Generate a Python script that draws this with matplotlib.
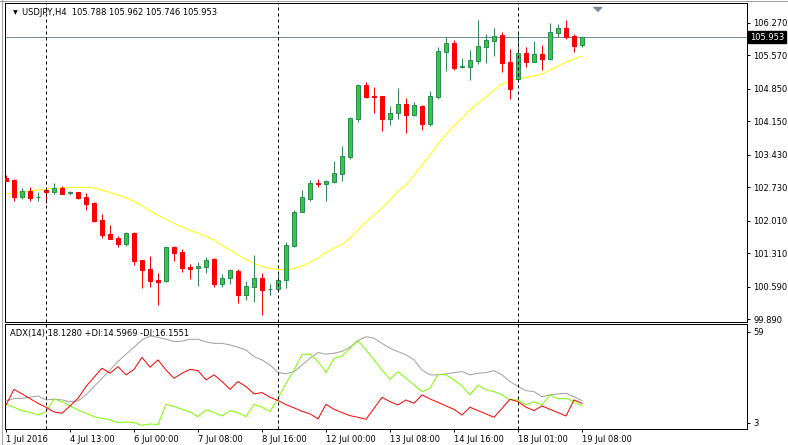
import matplotlib

matplotlib.use("Agg")
import matplotlib.pyplot as plt

plt.rcParams["font.family"] = ["DejaVu Sans"]
plt.rcParams["font.size"] = 6

W, H = 788, 445

# USDJPY H4 candles
opens = [102.921, 102.884, 102.525, 102.647, 102.508, 102.669, 102.632, 102.705, 102.598, 102.626,
         102.518, 102.390, 102.024, 101.723, 101.637, 101.514, 101.751, 101.164, 100.970, 100.734,
         100.705, 101.450, 101.336, 101.020, 100.985, 101.020, 101.179, 100.654, 100.770, 100.927,
         100.417, 100.590, 100.777, 100.536, 100.547, 100.727, 101.458, 102.202, 102.476, 102.813,
         102.792, 102.847, 103.020, 103.385, 104.202, 104.921, 104.691, 104.684, 104.202, 104.318,
         104.512, 104.288, 104.475, 104.088, 104.675, 105.643, 105.837, 105.318, 105.321, 105.443,
         105.751, 105.880, 106.009, 105.422, 105.056, 105.615, 105.428, 105.594, 105.486, 106.052,
         106.153, 105.981, 105.788]
highs = [102.991, 102.899, 102.712, 102.727, 102.620, 102.684, 102.813, 102.749, 102.654, 102.630,
         102.598, 102.411, 102.153, 101.916, 101.674, 101.766, 101.766, 101.170, 101.250, 100.878,
         101.440, 101.465, 101.394, 101.078, 101.114, 101.222, 101.200, 100.863, 100.977, 100.970,
         100.712, 101.271, 100.884, 100.648, 100.884, 101.551, 102.239, 102.669, 102.884, 102.899,
         102.884, 103.286, 103.615, 104.245, 104.949, 104.992, 104.878, 104.690, 104.475, 104.856,
         104.648, 104.562, 104.497, 104.798, 105.751, 105.953, 105.895, 105.501, 105.680, 106.325,
         106.024, 106.153, 106.067, 105.708, 106.039, 105.744, 105.873, 105.787, 106.260, 106.239,
         106.325, 106.024, 105.962]
lows = [102.862, 102.432, 102.469, 102.439, 102.439, 102.383, 102.583, 102.585, 102.555, 102.482,
        102.245, 101.981, 101.630, 101.610, 101.437, 101.465, 101.063, 100.568, 100.590, 100.203,
        100.695, 101.149, 100.912, 100.749, 100.611, 100.891, 100.590, 100.590, 100.654, 100.245,
        100.310, 100.267, 99.987, 100.417, 100.540, 100.555, 101.437, 102.190, 102.439, 102.727,
        102.439, 102.826, 102.862, 103.342, 104.131, 104.654, 104.331, 103.944, 104.073, 104.202,
        103.901, 104.267, 103.959, 104.052, 104.626, 105.228, 105.250, 105.299, 105.035, 105.385,
        105.407, 105.551, 105.213, 104.626, 105.035, 105.321, 105.420, 105.250, 105.465, 105.966,
        105.916, 105.643, 105.746]
closes = [102.869, 102.525, 102.647, 102.503, 102.514, 102.626, 102.705, 102.590, 102.626, 102.503,
          102.375, 102.002, 101.708, 101.615, 101.514, 101.744, 101.149, 100.955, 100.719, 100.697,
          101.437, 101.321, 100.998, 100.977, 101.035, 101.164, 100.654, 100.777, 100.949, 100.417,
          100.598, 100.777, 100.525, 100.540, 100.734, 101.480, 102.196, 102.512, 102.813, 102.798,
          102.856, 103.028, 103.400, 104.217, 104.921, 104.675, 104.675, 104.202, 104.318, 104.512,
          104.288, 104.491, 104.088, 104.684, 105.658, 105.837, 105.286, 105.325, 105.465, 105.766,
          105.895, 105.981, 105.400, 104.848, 105.615, 105.428, 105.594, 105.486, 106.060, 106.153,
          105.966, 105.772, 105.953]

# yellow moving average
ma_values = [102.583, 102.604, 102.626, 102.647, 102.669, 102.690, 102.701, 102.712, 102.723, 102.727,
             102.727, 102.712, 102.669, 102.615, 102.562, 102.497, 102.432, 102.325, 102.217, 102.121,
             102.045, 101.948, 101.873, 101.798, 101.734, 101.669, 101.594, 101.475, 101.379, 101.271,
             101.174, 101.089, 101.024, 100.981, 100.959, 100.949, 100.981, 101.035, 101.114, 101.207,
             101.325, 101.422, 101.497, 101.630, 101.809, 101.981, 102.131, 102.282, 102.454, 102.647,
             102.777, 102.992, 103.207, 103.422, 103.658, 103.873, 104.045, 104.217, 104.389, 104.540,
             104.669, 104.820, 104.949, 105.013, 105.056, 105.088, 105.121, 105.164, 105.250, 105.336,
             105.422, 105.486, 105.551]

# ADX(14) panel
adx_values = [16.6, 17.8, 18.0, 18.6, 19.4, 17.0, 17.4, 17.0, 15.9, 16.4,
              20.1, 25.2, 30.3, 35.4, 40.6, 45.1, 49.4, 53.9, 56.4, 55.5,
              54.3, 52.9, 53.1, 54.3, 54.3, 52.7, 51.8, 51.8, 50.8, 49.4,
              47.7, 43.6, 41.6, 38.5, 34.0, 33.0, 34.4, 38.5, 42.6, 46.1,
              45.1, 45.7, 46.9, 49.4, 53.5, 55.9, 54.9, 51.8, 48.8, 46.7,
              44.7, 41.6, 35.4, 32.4, 32.4, 33.0, 33.8, 34.4, 32.4, 33.4,
              33.8, 35.0, 32.4, 28.3, 25.2, 22.7, 22.1, 19.0, 20.1, 20.7,
              21.1, 19.0, 16.6]
plus_di = [14.5, 12.5, 10.4, 9.4, 7.7, 9.8, 17.6, 15.9, 13.3, 10.8,
           8.8, 6.7, 5.7, 4.7, 3.0, 3.4, 3.0, 1.4, 2.2, 1.8,
           14.3, 12.9, 11.2, 9.6, 6.7, 10.8, 9.4, 7.1, 10.4, 9.2,
           6.7, 14.3, 12.5, 9.8, 18.0, 27.2, 35.4, 44.9, 45.3, 40.6,
           33.8, 42.6, 44.0, 48.8, 53.5, 47.7, 41.6, 35.4, 29.7, 34.4,
           30.3, 26.2, 22.1, 24.2, 32.8, 32.4, 29.3, 25.6, 20.1, 26.2,
           23.1, 22.1, 20.1, 17.0, 17.0, 13.9, 15.9, 13.9, 20.1, 17.6,
           18.0, 15.9, 13.3]
minus_di = [13.9, 23.5, 20.7, 17.8, 14.9, 12.5, 9.6, 8.8, 13.3, 18.0,
            25.2, 30.9, 36.5, 33.4, 37.5, 32.4, 35.8, 43.2, 37.1, 41.6,
            35.4, 30.3, 33.4, 35.8, 35.0, 29.3, 32.4, 28.3, 23.5, 28.3,
            25.2, 20.7, 21.5, 18.6, 16.6, 14.1, 12.1, 10.0, 8.4, 5.3,
            14.3, 11.2, 9.2, 7.3, 6.3, 5.1, 11.8, 18.6, 15.9, 13.9,
            17.0, 14.9, 20.1, 17.6, 15.5, 13.3, 11.2, 7.7, 12.5, 10.4,
            8.4, 6.3, 11.8, 17.4, 15.9, 12.5, 10.4, 13.3, 11.2, 9.2,
            7.1, 17.0, 14.9]

separator_bars = [5, 34, 64]
time_tick_bars = [0, 8, 16, 24, 32, 40, 48, 56, 64, 72]
time_labels = ["1 Jul 2016", "4 Jul 13:00", "6 Jul 00:00", "7 Jul 08:00", "8 Jul 16:00",
               "12 Jul 00:00", "13 Jul 08:00", "14 Jul 16:00", "18 Jul 01:00", "19 Jul 08:00"]
price_ticks = [106.270, 105.570, 104.850, 104.150, 103.430, 102.730, 102.010, 101.310, 100.590, 99.890]
adx_ticks = [59, 3]
last_price = 105.953
header = "USDJPY,H4  105.788 105.962 105.746 105.953"
adx_header = "ADX(14) 18.1280 +DI:14.5969 -DI:16.1551"

BULL_FILL = "#32cd32"
BULL_EDGE = "#2e8b57"
BEAR = "#ff0000"
PX = 0.72  # one pixel in points at dpi 100


def px_box(left, top, right, bottom):
    return [left / W, 1 - bottom / H, (right - left) / W, (bottom - top) / H]


def draw_candles(ax):
    xs = range(len(opens))
    for i in xs:
        o, h, l, c = opens[i], highs[i], lows[i], closes[i]
        bull = c >= o
        edge = BULL_EDGE if bull else BEAR
        fill = BULL_FILL if bull else BEAR
        ax.vlines(i, l, h, color=edge, lw=1.0 * PX, zorder=3)
        bottom = min(o, c)
        height = max(abs(c - o), 0.0005)
        ax.bar(i, height, bottom=bottom, width=0.5, color=fill,
               edgecolor=edge, linewidth=1.0 * PX, zorder=4)


def style_panel(ax):
    for s in ax.spines.values():
        s.set_color("black")
        s.set_linewidth(1.0 * PX)
    ax.yaxis.tick_right()
    ax.tick_params(axis="y", direction="out", length=2.5, width=PX, pad=2, labelsize=6, colors="black")
    ax.set_xlim(-0.125, 92.625)


def main():
    fig = plt.figure(figsize=(W / 100, H / 100), dpi=100)
    fig.patch.set_facecolor("white")

    ax = fig.add_axes(px_box(5, 3, 747, 322))
    ax2 = fig.add_axes(px_box(5, 324, 747, 429))

    # main price panel
    style_panel(ax)
    ax.set_ylim(99.830, 106.690)
    ax.set_xticks([])
    ax.set_yticks(price_ticks)
    ax.set_yticklabels([f"{p:.3f}" for p in price_ticks])

    ax.axhline(last_price, color="#778899", lw=1.0 * PX, zorder=2)
    ax.plot(range(len(ma_values)), ma_values, color="#ffff00", lw=1.0 * PX, zorder=2)
    draw_candles(ax)

    ax.text(1.0 + 3 / 742, last_price, f"{last_price:.3f}", transform=ax.get_yaxis_transform(),
            ha="left", va="center", color="white", fontsize=6, clip_on=False,
            bbox=dict(facecolor="black", edgecolor="black", pad=1.2), zorder=10)

    ax.plot([(597 - 6) / 8], [1 - 3.5 / 319], transform=ax.get_xaxis_transform(),
            marker=[(-4, 0), (4, 0), (0, -4)], ms=6, color="#778899", clip_on=False, zorder=10)

    ax.text(10 / 742, 1 - 9.5 / 319, "▼", transform=ax.transAxes, fontsize=4.5, va="center", ha="center")
    ax.text(17 / 742, 1 - 9.5 / 319, header, transform=ax.transAxes, fontsize=6, va="center", ha="left")

    # ADX panel
    style_panel(ax2)
    ax2.set_ylim(-0.9, 63.7)
    ax2.set_yticks(adx_ticks)
    ax2.set_yticklabels([str(v) for v in adx_ticks])
    xs = range(len(adx_values))
    ax2.plot(xs, adx_values, color="#a0a0a0", lw=1.0 * PX, zorder=3)
    ax2.plot(xs, plus_di, color="#7cfc00", lw=1.0 * PX, zorder=3)
    ax2.plot(xs, minus_di, color="#ff0000", lw=1.0 * PX, zorder=4)
    ax2.text(5 / 742, 1 - 9.5 / 105, adx_header, transform=ax2.transAxes, fontsize=6,
             va="center", ha="left", zorder=6)

    ax2.set_xticks(time_tick_bars)
    ax2.set_xticklabels(time_labels)
    ax2.tick_params(axis="x", direction="out", length=2.5, width=PX, pad=1.5, labelsize=6)
    for lbl in ax2.get_xticklabels():
        lbl.set_horizontalalignment("left")

    for a in (ax, ax2):
        for b in separator_bars:
            a.axvline(b, color="black", lw=1.0 * PX, linestyle=(0, (3, 3)), zorder=5)

    # window frame
    fig.add_artist(plt.Line2D([0, 1], [1 - 0.7 / H] * 2, color="#a0a0a0", lw=PX))
    fig.add_artist(plt.Line2D([1.7 / W] * 2, [0, 1], color="#a0a0a0", lw=PX))

    fig.savefig("out.png", dpi=100, facecolor="white")
    plt.close(fig)


if __name__ == "__main__":
    main()
